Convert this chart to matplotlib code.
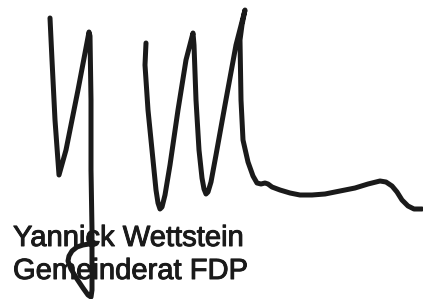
import matplotlib
matplotlib.use("Agg")
import matplotlib.pyplot as plt
import matplotlib.patheffects as pe

# Signature stroke (image pixel coordinates, y downward)
sig_x = [50, 52, 55, 59, 66, 78, 89, 90, 91, 91, 92, 92, 91, 88, 83, 77, 71, 68, 69, 72, 77, 83, 89, 95]
sig_y = [18, 60, 120, 175, 150, 90, 32, 36, 100, 170, 230, 290, 297, 295, 288, 279, 269, 261, 256, 251, 247, 245, 244, 243]

sig2_x = [146, 145, 148, 153, 156, 158, 160, 162, 165, 170, 178, 186, 193, 194, 196, 199, 202, 204, 206, 208, 211, 216,
          225, 236, 245, 242, 240, 241, 243, 248, 253, 257, 261, 265, 268, 272, 280, 290, 300, 312, 325, 340, 355, 368,
          380, 386, 392, 397, 402, 408, 414, 422]
sig2_y = [43, 65, 110, 160, 190, 203, 209, 207, 195, 165, 110, 60, 33, 45, 100, 150, 178, 189, 194, 192, 182, 155,
          105, 45, 10, 25, 40, 100, 140, 162, 176, 183, 184, 183, 184, 187, 190, 193, 195, 195, 194, 191, 188, 184,
          181, 182, 186, 192, 200, 206, 209, 209]

name_line = "Yannick Wettstein"
title_line = "Gemeinderat FDP"

fig = plt.figure(figsize=(4.23, 2.99), dpi=100)
ax = fig.add_axes([0, 0, 1, 1])
ax.set_xlim(0, 423)
ax.set_ylim(299, 0)
ax.axis("off")

ink = "#1a1a1a"
ax.plot(sig_x, sig_y, color=ink, lw=3.6, solid_capstyle="round", solid_joinstyle="round")
ax.plot(sig2_x, sig2_y, color=ink, lw=3.6, solid_capstyle="round", solid_joinstyle="round")

effects = [pe.withStroke(linewidth=0.7, foreground="#1a1a1a")]
ax.text(13, 246, name_line, fontsize=21, family="Liberation Sans", color="#1a1a1a",
        va="baseline", ha="left", path_effects=effects)
ax.text(13, 279, title_line, fontsize=21, family="Liberation Sans", color="#1a1a1a",
        va="baseline", ha="left", path_effects=effects)

fig.savefig("out.png", dpi=100, facecolor="white")
